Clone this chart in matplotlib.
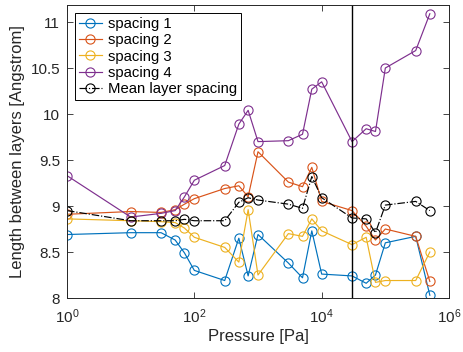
import matplotlib
matplotlib.use("Agg")
import matplotlib.pyplot as plt
from matplotlib.ticker import FixedLocator, FixedFormatter, NullLocator

plt.rcParams['font.family'] = ['Liberation Sans', 'DejaVu Sans']
plt.rcParams['mathtext.fontset'] = 'custom'
plt.rcParams['mathtext.rm'] = 'Liberation Sans'
plt.rcParams['mathtext.it'] = 'Liberation Sans'

# Pressure steps [Pa]
pressure = [1, 10, 30, 50, 70, 100, 300, 500, 700, 1000, 3000, 5000, 7000,
            1e4, 3e4, 5e4, 7e4, 1e5, 3e5, 5e5]

spacing1 = [8.69, 8.71, 8.71, 8.63, 8.49, 8.30, 8.19, 8.65, 8.24, 8.69,
            8.38, 8.22, 8.73, 8.26, 8.24, 8.16, 8.25, 8.60, 8.67, 8.03]
spacing2 = [8.91, 8.94, 8.93, 8.96, 9.02, 9.08, 9.19, 9.22, 9.10, 9.59,
            9.26, 9.21, 9.42, 9.05, 8.95, 8.78, 8.63, 8.75, 8.67, 8.18]
spacing3 = [8.86, 8.84, 8.83, 8.82, 8.76, 8.66, 8.55, 8.39, 8.96, 8.25,
            8.70, 8.67, 8.86, 8.73, 8.58, 8.66, 8.17, 8.19, 8.19, 8.50]
spacing4 = [9.33, 8.88, 8.92, 8.95, 9.10, 9.28, 9.44, 9.89, 10.04, 9.70,
            9.71, 9.78, 10.27, 10.35, 9.70, 9.84, 9.81, 10.50, 10.69, 11.09]
mean_spacing = [8.95, 8.84, 8.84, 8.84, 8.855, 8.84, 8.84, 9.04, 9.09, 9.065,
                9.02, 8.975, 9.32, 9.09, 8.87, 8.86, 8.71, 9.01, 9.05, 8.95]

transition_pressure = 3e4

series_labels = ['spacing 1', 'spacing 2', 'spacing 3', 'spacing 4']
series_colors = ['#0072BD', '#D95319', '#EDB120', '#7E2F8E']

yticks = [8, 8.5, 9, 9.5, 10, 10.5, 11]
ytick_labels = ['8', '8.5', '9', '9.5', '10', '10.5', '11']
xticks = [1, 1e2, 1e4, 1e6]
xtick_labels = [r'$10^{0}$', r'$10^{2}$', r'$10^{4}$', r'$10^{6}$']

W, H = 464, 352
fig = plt.figure(figsize=(W / 100, H / 100), dpi=100)
ax = fig.add_axes([67 / W, 1 - 298 / H, 382 / W, 293 / H])

axis_gray = '#262626'
mk = dict(marker='o', markersize=6.6, markerfacecolor='none',
          markeredgewidth=0.8, linewidth=0.85)

for vals, lab, col in zip([spacing1, spacing2, spacing3, spacing4],
                          series_labels, series_colors):
    ax.plot(pressure, vals, color=col, markeredgecolor=col, label=lab, **mk)

ax.plot(pressure, mean_spacing, color='black', linestyle='-.',
        markeredgecolor='black', label='Mean layer spacing', **mk)

ax.axvline(transition_pressure, color='black', linewidth=1.0)

ax.set_xscale('log')
ax.set_xlim(1, 1e6)
ax.set_ylim(8, 11.185)
ax.xaxis.set_major_locator(FixedLocator(xticks))
ax.xaxis.set_major_formatter(FixedFormatter(xtick_labels))
ax.xaxis.set_minor_locator(NullLocator())
ax.yaxis.set_major_locator(FixedLocator(yticks))
ax.yaxis.set_major_formatter(FixedFormatter(ytick_labels))

ax.tick_params(direction='in', top=True, right=True, length=4, width=0.6,
               color=axis_gray, labelcolor=axis_gray, labelsize=11)
ax.tick_params(axis='x', pad=7)
ax.tick_params(axis='y', pad=5)
for sp in ax.spines.values():
    sp.set_color(axis_gray)
    sp.set_linewidth(0.7)

ax.set_xlabel('Pressure [Pa]', fontsize=12, color=axis_gray, labelpad=2)
ax.set_ylabel('Length between layers [Angstrom]', fontsize=12,
              color=axis_gray, labelpad=4)

leg = ax.legend(loc='upper left', fontsize=10.7, handlelength=1.55,
                handletextpad=0.4, labelspacing=0.16, borderpad=0.25,
                borderaxespad=0.55, fancybox=False, framealpha=1,
                edgecolor='black', numpoints=1)
leg.get_frame().set_linewidth(0.7)

fig.savefig('out.png', dpi=100)
